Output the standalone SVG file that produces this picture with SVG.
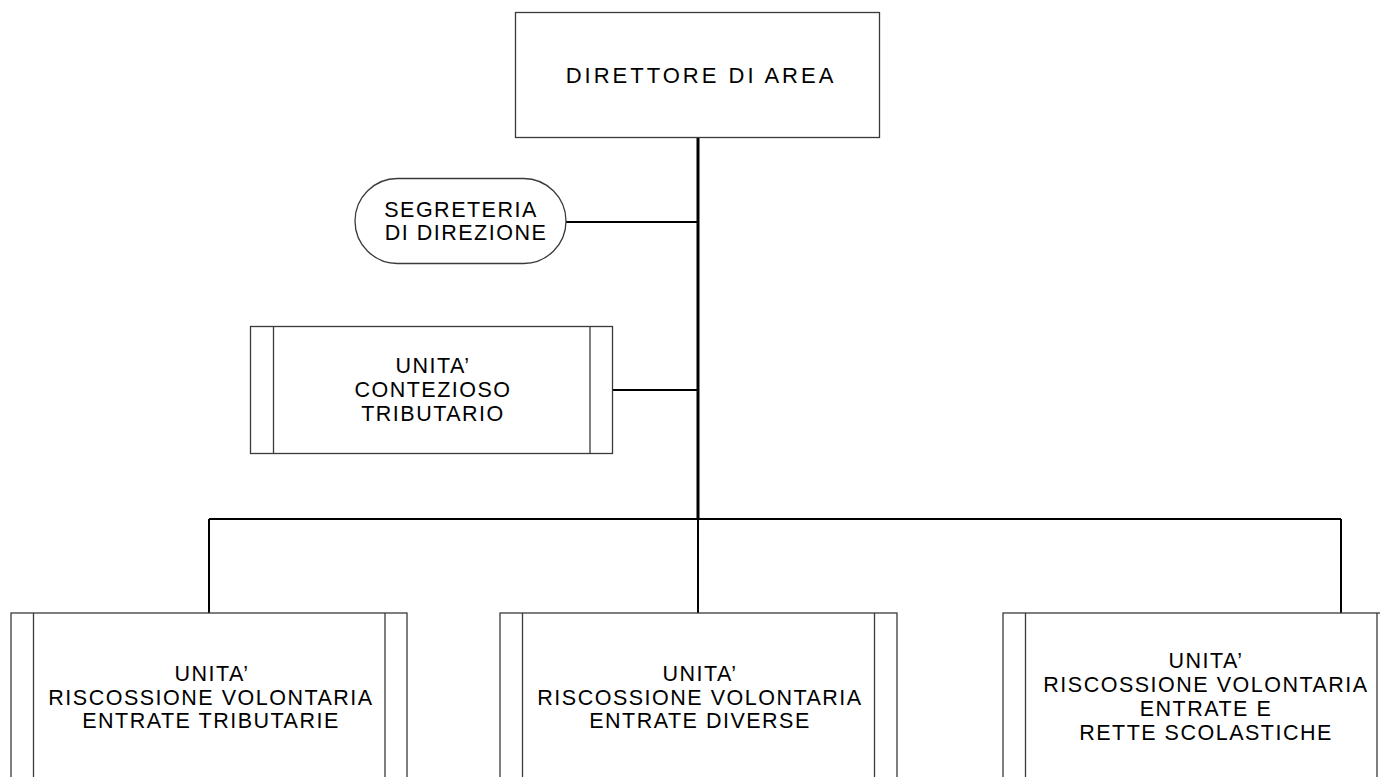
<svg xmlns="http://www.w3.org/2000/svg" width="1380" height="777" viewBox="0 0 1380 777">
<style>
  .box { fill: #ffffff; stroke: #3a3a3a; stroke-width: 1.3; }
  .bar { stroke: #3a3a3a; stroke-width: 1.3; fill: none; }
  .conn { stroke: #000000; stroke-width: 2; fill: none; }
  .main { stroke: #000000; stroke-width: 3; fill: none; }
  .lbl { font-family: "Liberation Sans", Arial, sans-serif; font-size: 21.5px; letter-spacing: 1.5px; fill: #000000; text-anchor: middle; }
  .top { font-size: 22px; letter-spacing: 3px; }
</style>
<rect width="1380" height="777" fill="#ffffff"/>
<g id="connectors">
  <line class="main" x1="698" y1="137" x2="698" y2="519"/>
  <line class="conn" x1="566" y1="222" x2="698" y2="222"/>
  <line class="conn" x1="613" y1="390" x2="698" y2="390"/>
  <line class="conn" x1="209" y1="519" x2="1341" y2="519"/>
  <line class="conn" x1="209" y1="519" x2="209" y2="613"/>
  <line class="conn" x1="698" y1="519" x2="698" y2="613"/>
  <line class="conn" x1="1341" y1="519" x2="1341" y2="613"/>
</g>
<g id="direttore">
  <rect class="box" x="515.5" y="12.5" width="364" height="125"/>
  <text class="lbl top" x="701" y="83">DIRETTORE DI AREA</text>
</g>
<g id="segreteria">
  <rect class="box" x="355" y="178.5" width="211" height="85" rx="42.5" ry="42.5"/>
  <text class="lbl" x="461" y="217">SEGRETERIA</text>
  <text class="lbl" x="466" y="240">DI DIREZIONE</text>
</g>
<g id="contenzioso">
  <rect class="box" x="250.5" y="326.5" width="362" height="127"/>
  <line class="bar" x1="273.5" y1="326.5" x2="273.5" y2="453.5"/>
  <line class="bar" x1="590" y1="326.5" x2="590" y2="453.5"/>
  <text class="lbl" x="433" y="373">UNITA’</text>
  <text class="lbl" x="433" y="397">CONTEZIOSO</text>
  <text class="lbl" x="433" y="421">TRIBUTARIO</text>
</g>
<g id="tributarie">
  <rect class="box" x="11" y="613" width="396" height="200"/>
  <line class="bar" x1="33.5" y1="613" x2="33.5" y2="790"/>
  <line class="bar" x1="385" y1="613" x2="385" y2="790"/>
  <text class="lbl" x="212" y="681">UNITA’</text>
  <text class="lbl" x="211" y="704.5">RISCOSSIONE VOLONTARIA</text>
  <text class="lbl" x="211" y="728">ENTRATE TRIBUTARIE</text>
</g>
<g id="diverse">
  <rect class="box" x="500" y="613" width="397" height="200"/>
  <line class="bar" x1="522.5" y1="613" x2="522.5" y2="790"/>
  <line class="bar" x1="874.5" y1="613" x2="874.5" y2="790"/>
  <text class="lbl" x="700" y="681">UNITA’</text>
  <text class="lbl" x="700" y="704.5">RISCOSSIONE VOLONTARIA</text>
  <text class="lbl" x="700" y="728">ENTRATE DIVERSE</text>
</g>
<g id="scolastiche">
  <rect class="box" x="1003" y="613" width="396" height="200"/>
  <line class="bar" x1="1025.5" y1="613" x2="1025.5" y2="790"/>
  <line class="bar" x1="1377" y1="613" x2="1377" y2="790"/>
  <text class="lbl" x="1206" y="668">UNITA’</text>
  <text class="lbl" x="1206" y="692">RISCOSSIONE VOLONTARIA</text>
  <text class="lbl" x="1206" y="716">ENTRATE E</text>
  <text class="lbl" x="1206" y="740">RETTE SCOLASTICHE</text>
</g>
</svg>
